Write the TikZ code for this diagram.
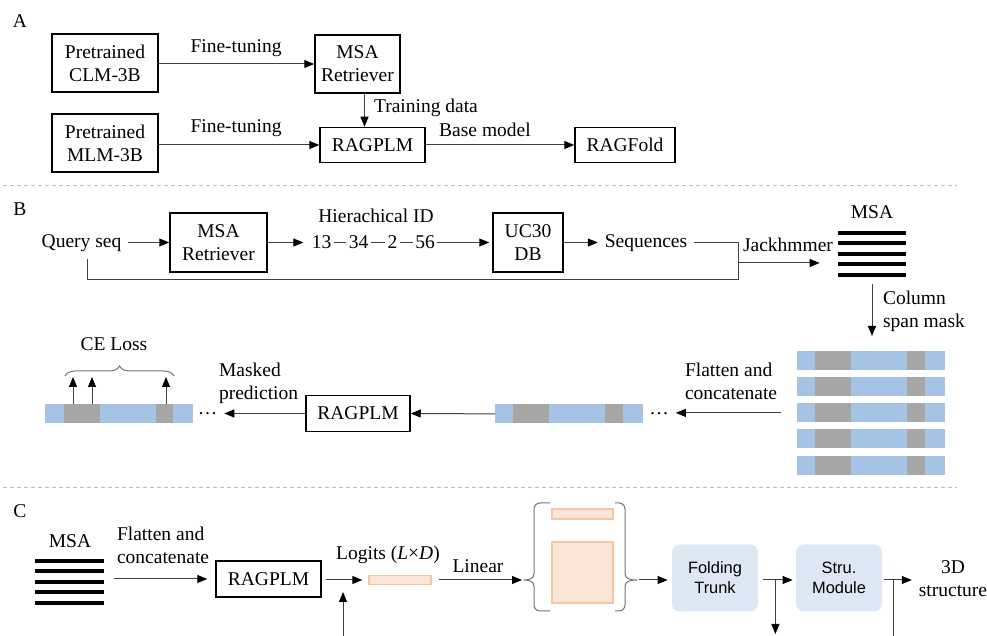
\documentclass[tikz,border=0pt]{standalone}
\usepackage{fontspec}
\setmainfont{Liberation Serif}
\setsansfont{Liberation Sans}
\usetikzlibrary{arrows.meta, decorations.pathreplacing}
\definecolor{seqblue}{HTML}{A5C3E4}
\definecolor{maskgray}{HTML}{A6A6A6}
\definecolor{logitfill}{HTML}{FBE5D6}
\definecolor{logitline}{HTML}{F4C6A6}
\definecolor{modfill}{HTML}{DEE8F4}
\newcommand{\maskedrow}[3]{%
	\node[seqbar, anchor=north west] (#1) at (#2,#3) {};
	\fill[maskgray] (#2+18,#3) rectangle (#2+54,#3+19);
	\fill[maskgray] (#2+110,#3) rectangle (#2+128,#3+19);%
}

\begin{document}
\begin{tikzpicture}[x=0.5pt, y=-0.5pt,
	font=\fontsize{9.75}{11.5}\selectfont,
	plainbox/.style={draw, line width=0.75pt, align=center, inner sep=1pt},
	modbox/.style={fill=modfill, rounded corners=4pt, align=center, minimum width=43pt, minimum height=33.5pt, font=\sffamily\fontsize{8.2}{10}\selectfont},
	idnum/.style={inner sep=1pt},
	arr/.style={draw=black!75, line width=0.5pt, -{Triangle[length=5pt, width=4pt, color=black]}},
	wire/.style={draw=black!75, line width=0.5pt},
	msaline/.style={line width=2pt},
	seqbar/.style={fill=seqblue, minimum width=74pt, minimum height=9.5pt, inner sep=0pt},
	logitbox/.style={fill=logitfill, draw=logitline, line width=0.75pt, inner sep=0pt},
	bracket/.style={draw=black!55, line width=0.5pt},
	divider/.style={draw=black!25, line width=0.5pt, dash pattern=on 2pt off 1.5pt}]
	\useasboundingbox (0,0) rectangle (987,636);

	% Panel A:
	\node (labA) at (20,21) {A};
	\node[plainbox, minimum width=53pt, minimum height=29pt] (clm) at (105,63) {Pretrained\\CLM-3B};
	\node[plainbox, minimum width=42.5pt, minimum height=29pt] (retA) at (357.5,64) {MSA\\Retriever};
	\node[plainbox, minimum width=53pt, minimum height=29pt] (mlm) at (105,143) {Pretrained\\MLM-3B};
	\node[plainbox, minimum width=52.5pt, minimum height=17.5pt] (plmA) at (372.5,145) {RAGPLM};
	\node[plainbox, minimum width=50pt, minimum height=17.5pt] (fold) at (625,145) {RAGFold};
	\node (ftA) at (236,48) {Fine-tuning};
	\node (ftB) at (236,128) {Fine-tuning};
	\node[anchor=west] (trdata) at (367,108) {Training data};
	\node (basem) at (485,130) {Base model};
	\draw[arr] (clm.east |- retA.west) -- (retA.west);
	\draw[arr] (mlm.east |- plmA.west) -- (plmA.west);
	\draw[arr] ([xshift=3.5pt]retA.south) -- ([xshift=3.5pt]retA.south |- plmA.north);
	\draw[arr] (plmA) -- (fold);
	\draw[divider] (3,186) -- (957,186);

	% Panel B:
	\node (labB) at (20,209) {B};
	\node (query) at (81.5,243) {Query seq};
	\node[plainbox, minimum width=48.5pt, minimum height=29.5pt] (retB) at (218.5,242.5) {MSA\\Retriever};
	\node (hierid) at (376,216) {Hierachical ID};
	\node[idnum] (id13) at (321.5,242.5) {13};
	\node[idnum] (id34) at (358.5,242.5) {34};
	\node[idnum] (id2) at (392.5,242.5) {2};
	\node[idnum] (id56) at (425,242.5) {56};
	\node[plainbox, minimum width=35pt, minimum height=29.5pt] (db) at (528,242.5) {UC30\\DB};
	\node (seqs) at (646,243) {Sequences};
	\node (jack) at (788,245) {Jackhmmer};
	\node (msaBlab) at (872,212) {MSA};
	\node[inner sep=0pt, minimum width=34pt, minimum height=21pt] (msaB) at (872,254) {};
	\draw[msaline] (838,233) -- (906,233);
	\draw[msaline] (838,243.5) -- (906,243.5);
	\draw[msaline] (838,254) -- (906,254);
	\draw[msaline] (838,264.5) -- (906,264.5);
	\draw[msaline] (838,275) -- (906,275);
	\coordinate (jn) at (738,263);
	\coordinate (jb) at (738,280);
	\draw[arr] (query.east |- retB.west) -- (retB.west);
	\draw[arr, shorten >=3pt] (retB.east) -- (retB.east -| id13.west);
	\draw[wire] (id13) -- (id34);
	\draw[wire] (id34) -- (id2);
	\draw[wire] (id2) -- (id56);
	\draw[arr, shorten >=1.5pt] (id56.east) -- (id56.east -| db.west);
	\draw[arr] (db.east) -- (db.east -| seqs.west);
	\draw[wire] (seqs.east) -| (jn);
	\draw[wire] ([xshift=2.75pt]query.south) |- (jb) -- (jn);
	\draw[arr] (jn) -- ([xshift=-9pt]msaB.west |- jn);
	\maskedrow{r1}{797}{351}
	\maskedrow{r2}{797}{377}
	\maskedrow{r3}{797}{403}
	\maskedrow{r4}{797}{429}
	\maskedrow{r5}{797}{456}
	\node[anchor=west, align=left] (colmask) at (876,311) {Column\\span mask};
	\draw[arr] ([yshift=-4.5pt]msaB.south) -- ([yshift=7.5pt]r1.north -| msaB.south);
	\node[anchor=west, align=left] (flatB) at (678,381.5) {Flatten and\\concatenate};
	\node (dotsA) at (659,414) {\dots};
	\draw[arr] ([xshift=-8pt]r3.west) -- (dotsA.east |- r3.west);
	\maskedrow{flatR}{495}{404}
	\node[plainbox, minimum width=52pt, minimum height=18pt] (plmB) at (358,413.5) {RAGPLM};
	\draw[arr] (flatR.west) -- (plmB.east);
	\node (dotsB) at (207.5,414) {\dots};
	\draw[arr] (plmB.west) -- (dotsB.east |- plmB.west);
	\node[anchor=west, align=left] (maskpred) at (212,383) {Masked\\prediction};
	\node[seqbar, anchor=north west] (flatL) at (45,404) {};
	\fill[maskgray] (64,404) rectangle (100,423);
	\fill[maskgray] (156,404) rectangle (173,423);
	\draw[arr] ([xshift=14pt]flatL.north west) -- ++(0,-27);
	\draw[arr] ([xshift=23.5pt]flatL.north west) -- ++(0,-27);
	\draw[arr] ([xshift=60.5pt]flatL.north west) -- ++(0,-27);
	\draw[bracket, decorate, decoration={brace, amplitude=5pt}] (65,376) -- (174,376);
	\node (celoss) at (114,344) {CE Loss};
	\draw[divider] (3,488) -- (957,488);

	% Panel C:
	\node (labC) at (20,511) {C};
	\node (msaClab) at (70,541) {MSA};
	\node[inner sep=0pt, minimum width=34.5pt, minimum height=21pt] (msaC) at (69.5,582) {};
	\draw[msaline] (35,561) -- (104,561);
	\draw[msaline] (35,571.5) -- (104,571.5);
	\draw[msaline] (35,582) -- (104,582);
	\draw[msaline] (35,592.5) -- (104,592.5);
	\draw[msaline] (35,603) -- (104,603);
	\node[anchor=west, align=left] (flatC) at (110,545) {Flatten and\\concatenate};
	\node[plainbox, minimum width=52.5pt, minimum height=18pt] (plmC) at (268.5,579) {RAGPLM};
	\draw[arr, shorten >=4pt] ([xshift=5pt]msaC.east |- plmC.west) -- (plmC.west);
	\node[logitbox, minimum width=31pt, minimum height=4.5pt] (logit) at (400,580) {};
	\node (logitlab) at (388,555) {Logits (\textit{L}×\textit{D})};
	\draw[arr, shorten >=3pt] ([xshift=2pt]plmC.east |- logit.west) -- (logit.west);
	\coordinate (login) at (343,640);
	\draw[arr] (login) -- ++(0,-48);
	\node (linear) at (478,566) {Linear};
	\coordinate (lbr) at (522,580);
	\coordinate (rbr) at (637,580);
	\draw[arr] ([xshift=3.5pt]logit.east) -- (lbr);
	\draw[bracket] (550,503) -- (540,503) to[out=180, in=90] (534,509) -- (534,574) to[out=-90, in=0] (524,580) to[out=0, in=90] (534,586) -- (534,605) to[out=-90, in=180] (540,611) -- (550,611);
	\draw[bracket] (615,503) -- (619,503) to[out=0, in=90] (625,509) -- (625,574) to[out=-90, in=180] (637,580) to[out=180, in=90] (625,586) -- (625,605) to[out=-90, in=0] (619,611) -- (615,611);
	\node[logitbox, minimum width=30.5pt, minimum height=5pt] (pairbar) at (582.5,514) {};
	\node[logitbox, minimum width=30.5pt, minimum height=30.5pt] (pairsq) at (582.5,572.5) {};
	\node[modbox] (trunk) at (715,578) {Folding\\Trunk};
	\node[modbox] (module) at (839,578) {Stru.\\Module};
	\node[align=center] (struct) at (953,579) {3D\\structure};
	\draw[arr, shorten >=2pt] ([xshift=1pt]rbr) -- (rbr -| trunk.west);
	\draw[arr, shorten >=1.5pt] ([xshift=2.5pt]trunk.east |- rbr) -- (rbr -| module.west);
	\draw[arr] ([xshift=8.5pt]trunk.east |- rbr) -- ++(0,54);
	\draw[arr] ([xshift=1pt]module.east |- rbr) -- (rbr -| struct.west);
	\draw[wire] ([xshift=5.5pt]module.east |- rbr) -- ++(0,60);
\end{tikzpicture}
\end{document}
